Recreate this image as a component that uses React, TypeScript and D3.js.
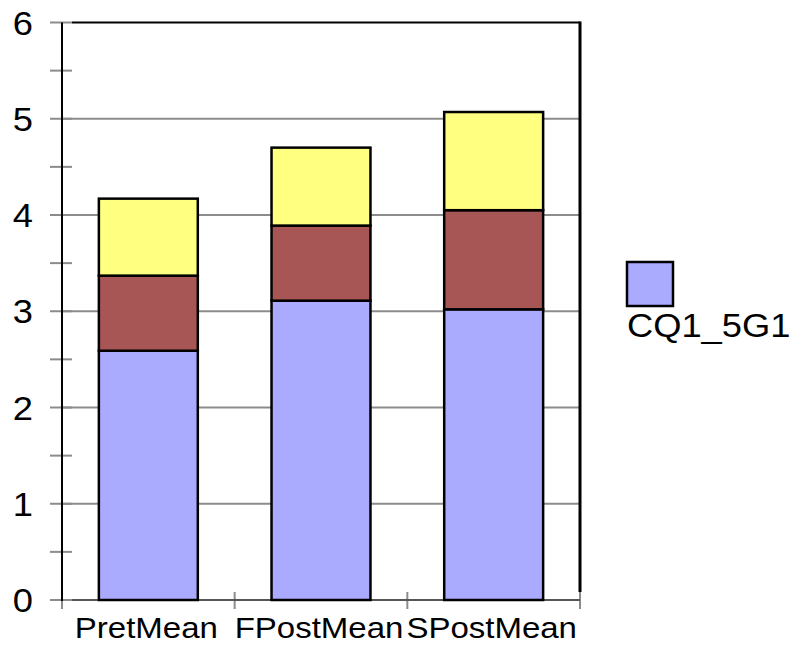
import React, { useEffect, useRef } from 'react';
import * as d3 from 'd3';

const categories = ['PretMean', 'FPostMean', 'SPostMean'];
const seriesNames = ['CQ1_5G1', 'CQ1_5G2', 'CQ1_5G3'];
const blueValues = [2.59, 3.11, 3.02];
const redValues = [0.78, 0.78, 1.03];
const yellowValues = [0.80, 0.81, 1.02];
const yTicks = [0, 1, 2, 3, 4, 5, 6];
const colors = ['#aaaaff', '#a85555', '#ffff80'];

const App: React.FC = () => {
  const ref = useRef<SVGSVGElement>(null);

  useEffect(() => {
    if (!ref.current) return;
    const width = 796, height = 645;
    const left = 62, right = 580, top = 22.5, bottom = 600;

    const svg = d3.select(ref.current);
    svg.selectAll('*').remove();
    svg.attr('width', width).attr('height', height);

    const x = d3.scaleBand().domain(categories).range([left, right]).paddingInner(0.427).paddingOuter(0.2135);
    const y = d3.scaleLinear().domain([0, 6]).range([bottom, top]);

    const font = 'Arial, "Liberation Sans", sans-serif';

    // gridlines
    svg.append('g')
      .selectAll('line')
      .data(yTicks.filter(t => t > 0 && t < 6))
      .enter()
      .append('line')
      .attr('x1', left)
      .attr('x2', right)
      .attr('y1', d => y(d))
      .attr('y2', d => y(d))
      .attr('stroke', '#8c8c8c')
      .attr('stroke-width', 2);

    // y ticks (major + minor)
    const allTicks = d3.range(0, 6.01, 0.5);
    svg.append('g')
      .selectAll('line')
      .data(allTicks)
      .enter()
      .append('line')
      .attr('x1', left - 12)
      .attr('x2', left + 10)
      .attr('y1', d => y(d))
      .attr('y2', d => y(d))
      .attr('stroke', '#8c8c8c')
      .attr('stroke-width', 2);

    // x ticks at band boundaries
    const xBounds = [left, ...categories.slice(1).map(c => (x(c) ?? 0) - x.step() * x.paddingInner() / 2), right];
    svg.append('g')
      .selectAll('line')
      .data(xBounds)
      .enter()
      .append('line')
      .attr('x1', d => d)
      .attr('x2', d => d)
      .attr('y1', bottom - 8)
      .attr('y2', bottom + 9)
      .attr('stroke', '#8c8c8c')
      .attr('stroke-width', 2);

    // x axis line
    svg.append('line')
      .attr('x1', left + 10).attr('x2', right)
      .attr('y1', bottom).attr('y2', bottom)
      .attr('stroke', '#555').attr('stroke-width', 2);

    // border: left, top, right
    svg.append('line').attr('x1', left).attr('x2', left).attr('y1', top).attr('y2', bottom + 1)
      .attr('stroke', '#000').attr('stroke-width', 2);
    svg.append('line').attr('x1', left + 10).attr('x2', right).attr('y1', top).attr('y2', top)
      .attr('stroke', '#000').attr('stroke-width', 2);
    svg.append('line').attr('x1', right).attr('x2', right).attr('y1', top - 1).attr('y2', bottom - 8)
      .attr('stroke', '#000').attr('stroke-width', 3);

    // stacked bars
    const rows = categories.map((c, i) => ({
      cat: c, s0: blueValues[i], s1: redValues[i], s2: yellowValues[i],
    }));
    const stack = d3.stack<any>().keys(['s0', 's1', 's2']);
    const layers = stack(rows);

    layers.forEach((layer, li) => {
      svg.append('g')
        .selectAll('rect')
        .data(layer)
        .enter()
        .append('rect')
        .attr('x', d => x(d.data.cat) ?? 0)
        .attr('width', x.bandwidth())
        .attr('y', d => y(d[1]))
        .attr('height', d => y(d[0]) - y(d[1]))
        .attr('fill', colors[li])
        .attr('stroke', '#000')
        .attr('stroke-width', 2.5);
    });

    // y labels
    svg.append('g')
      .selectAll('text')
      .data(yTicks)
      .enter()
      .append('text')
      .attr('transform', d => `translate(33,${y(d) + 12}) scale(1.1,1)`)
      .attr('text-anchor', 'end')
      .attr('font-family', font)
      .attr('font-size', 33)
      .attr('fill', '#000')
      .text(d => d);

    // x labels
    svg.append('g')
      .selectAll('text')
      .data(categories)
      .enter()
      .append('text')
      .attr('transform', d => `translate(${(x(d) ?? 0) + x.bandwidth() / 2 - 2},638) scale(1.1,1)`)
      .attr('text-anchor', 'middle')
      .attr('font-family', font)
      .attr('font-size', 30)
      .attr('fill', '#000')
      .text(d => d);

    // legend (only first series is visible)
    svg.append('rect')
      .attr('x', 627).attr('y', 262).attr('width', 46).attr('height', 44)
      .attr('fill', colors[0]).attr('stroke', '#000').attr('stroke-width', 2.5);
    svg.append('text')
      .attr('transform', 'translate(627,337) scale(1.1,1)')
      .attr('font-family', font).attr('font-size', 33).attr('fill', '#000')
      .text(seriesNames[0]);
  }, []);

  return <svg ref={ref} style={{ position: 'absolute', left: 0, top: 0 }} />;
};

export default App;
